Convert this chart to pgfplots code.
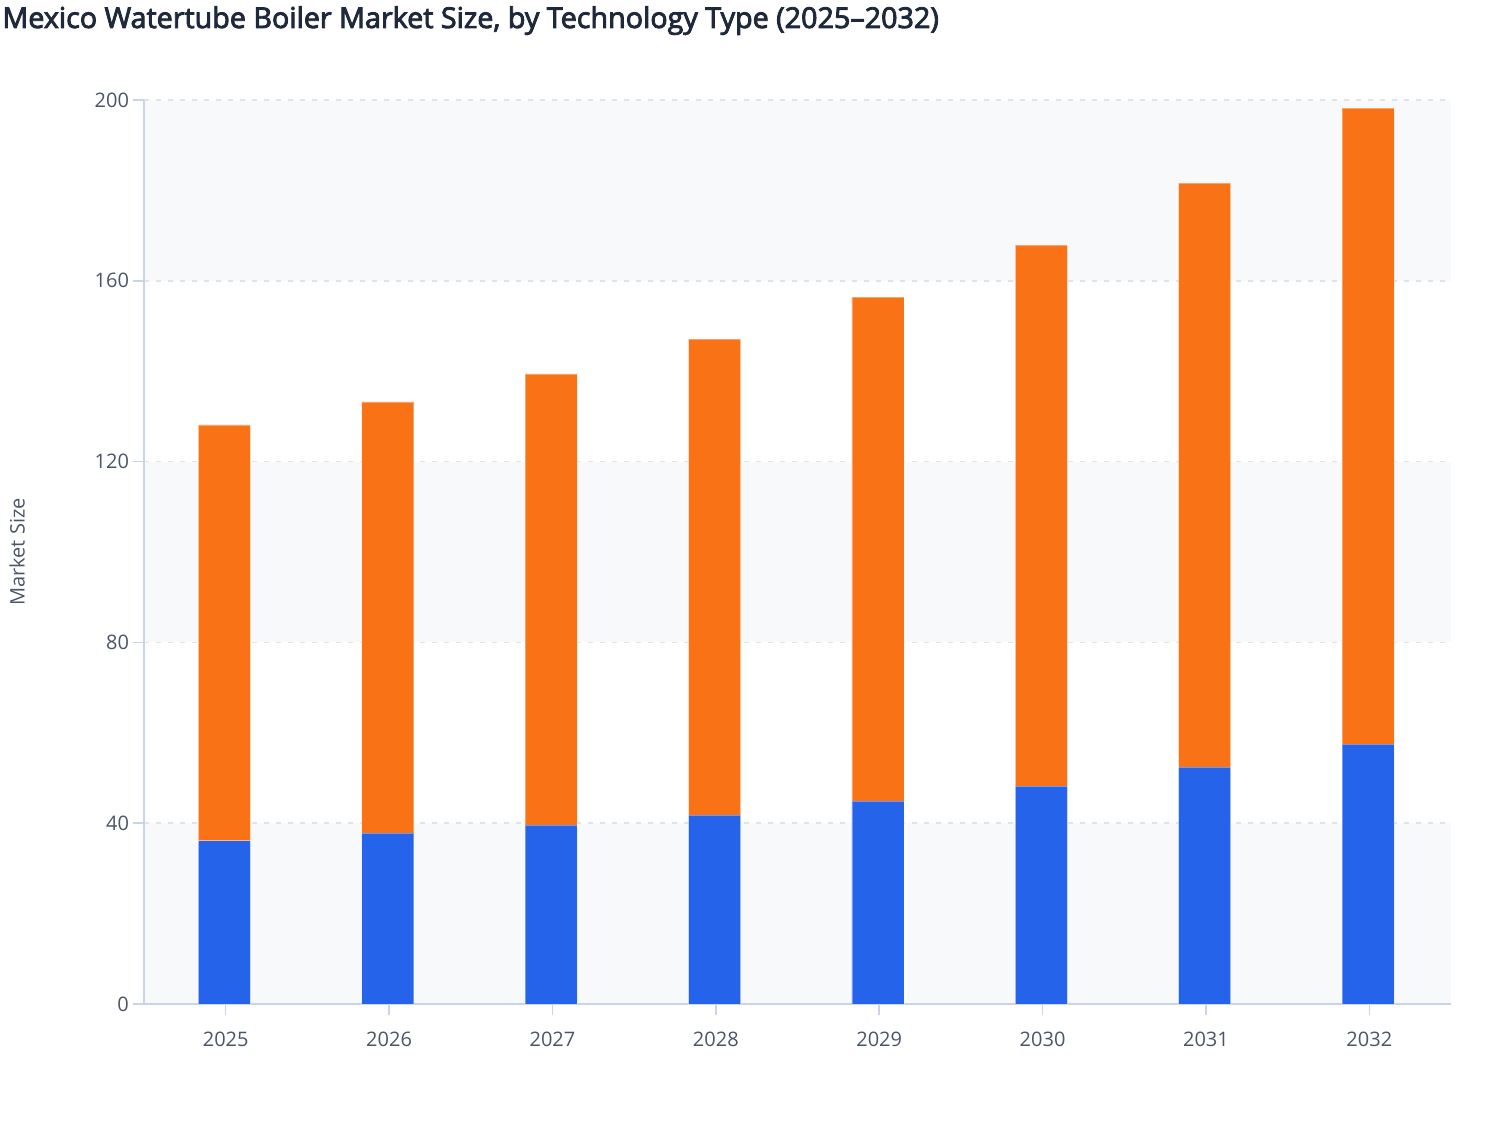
\documentclass[border=0pt]{standalone}
\usepackage{pgfplots}
\pgfplotsset{compat=1.18}
\usetikzlibrary{calc}
\usepackage{fontspec}
\setmainfont{Open Sans}
\newfontfamily\titlefont{Open Sans}[FakeBold=3]

\definecolor{barblue}{HTML}{2563EB}
\definecolor{barorange}{HTML}{F97316}
\definecolor{titlecol}{HTML}{1E293B}
\definecolor{tickcol}{HTML}{4A5568}
\definecolor{axiscol}{HTML}{C9D3EC}
\definecolor{gridcol}{HTML}{E1E3EA}
\definecolor{bandcol}{HTML}{F8F9FB}

\begin{document}
\begin{tikzpicture}
\begin{axis}[
    scale only axis,
    width=653.5pt,
    height=452pt,
    % alternating bands 0-40, 80-120, 160-200
    axis background/.style={path picture={
        \coordinate (A) at (path picture bounding box.south west);
        \coordinate (B) at (path picture bounding box.north east);
        \fill[bandcol] (A) rectangle (B |- {$(A)!0.2!(B)$});
        \fill[bandcol] (A |- {$(A)!0.4!(B)$}) rectangle (B |- {$(A)!0.6!(B)$});
        \fill[bandcol] (A |- {$(A)!0.8!(B)$}) rectangle (B);
    }},
    ybar stacked,
    bar width=26pt,
    xmin=-0.5, xmax=7.5,
    ymin=0, ymax=200,
    xtick={0,...,7},
    xticklabels={2025,2026,2027,2028,2029,2030,2031,2032},
    ytick={0,40,80,120,160,200},
    axis x line*=bottom,
    axis y line*=left,
    axis line style={axiscol, line width=0.8pt},
    tick style={axiscol, line width=0.8pt},
    tick align=outside,
    major tick length=5.5pt,
    ymajorgrids=true,
    major grid style={gridcol, line width=0.8pt, dash pattern=on 2.6pt off 3.4pt},
    /pgf/number format/assume math mode=true,
    ticklabel style={font=\fontsize{10}{12}\selectfont, text=tickcol},
    yticklabel style={xshift=1.5pt},
    xticklabel style={yshift=-5pt},
    ylabel={Market Size},
    ylabel style={at={(axis description cs:-0.097,0.5)}, anchor=center,
        rotate=0, font=\fontsize{10}{12}\selectfont, text=tickcol},
]
\addplot[fill=barblue, draw=white, draw opacity=0.35, line width=0.4pt, xshift=-0.6pt]
coordinates {
    (0,36.1) (1,37.8) (2,39.6) (3,41.8) (4,44.9) (5,48.2) (6,52.4) (7,57.5)
};
\addplot[fill=barorange, draw=white, draw opacity=0.35, line width=0.4pt, xshift=-0.6pt]
coordinates {
    (0,92.0) (1,95.4) (2,99.8) (3,105.3) (4,111.5) (5,119.7) (6,129.2) (7,140.7)
};
\end{axis}

\node[anchor=base west, inner sep=0pt, text=titlecol,
      font=\titlefont\fontsize{14.35}{16}\selectfont]
    at (-71pt,488pt) {Mexico Watertube Boiler Market Size, by Technology Type (2025–2032)};
% page frame: 1508 x 1120 px at 0.5pt per px, axis box at the origin
\path (-72pt,-58pt) rectangle (682pt,502pt);
\end{tikzpicture}
\end{document}
